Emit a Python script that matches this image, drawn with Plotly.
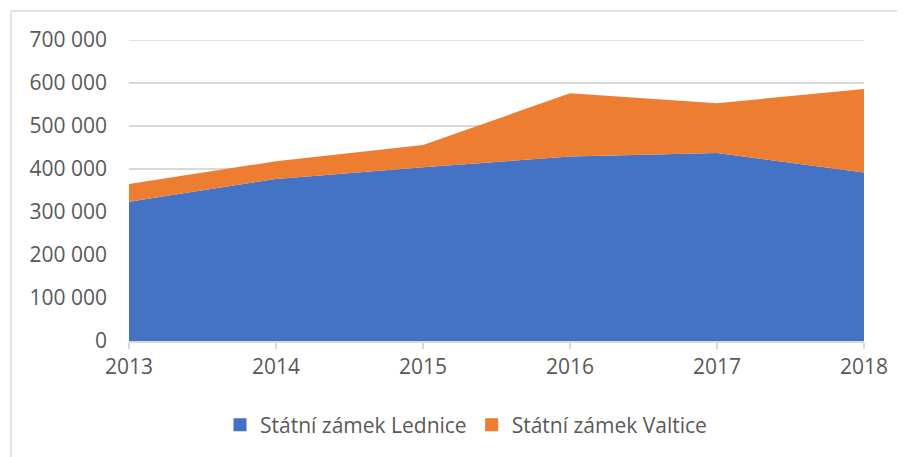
import plotly.graph_objects as go

years = [2013, 2014, 2015, 2016, 2017, 2018]
lednice = [324000, 377000, 404000, 429000, 437000, 392000]
valtice = [41000, 41000, 52000, 147000, 116000, 194000]
series_names = ["Státní zámek Lednice", "Státní zámek Valtice"]
colors = ["#4472C4", "#ED7D31"]
y_ticks = [0, 100000, 200000, 300000, 400000, 500000, 600000, 700000]

fig = go.Figure()
for name, vals, c in zip(series_names, [lednice, valtice], colors):
    fig.add_trace(go.Scatter(
        x=years, y=vals, name=name, mode="lines",
        stackgroup="one", line=dict(width=0, color=c), fillcolor=c,
        showlegend=False, hoverinfo="x+y+name",
    ))
# legend entries as square markers
for name, c in zip(series_names, colors):
    fig.add_trace(go.Scatter(
        x=[None], y=[None], name=name, mode="markers",
        marker=dict(symbol="square", size=13, color=c), showlegend=True,
    ))

# page body has an 8px margin, so the figure is shrunk by 8px
W, H = 897, 449
L, R, T, B = 121, 41, 32, 116
pw, ph = W - L - R, H - T - B
GRID = "#d9d9d9"
TXT = "#595959"
FONT = "Open Sans, Liberation Sans, sans-serif"

fig.update_layout(
    width=W, height=H,
    margin=dict(l=L, r=R, t=T, b=B),
    paper_bgcolor="white", plot_bgcolor="white",
    separators=", ",
    font=dict(family=FONT, size=21, color=TXT),
    showlegend=True,
    legend=dict(orientation="h", x=(458 - L) / pw, xanchor="center",
                y=(ph + T - 417) / ph, yanchor="middle",
                font=dict(size=21, color=TXT), traceorder="normal",
                itemwidth=30, bgcolor="rgba(0,0,0,0)"),
    xaxis=dict(range=[years[0], years[-1]], tickmode="array", tickvals=years,
               ticktext=[str(y) for y in years], showgrid=False,
               showline=True, linecolor=GRID, linewidth=1.5,
               ticks="outside", ticklen=6, tickcolor=GRID, tickwidth=1.5,
               zeroline=False, tickfont=dict(size=21, color=TXT)),
    yaxis=dict(range=[0, y_ticks[-1]], tickvals=y_ticks,
               tickformat=",d",
               showgrid=True, gridcolor=GRID, gridwidth=1.5,
               zeroline=False, showline=False, ticks="",
               ticklabelstandoff=21,
               tickfont=dict(size=21, color=TXT)),
    shapes=[
        # top gridline (plotly omits the gridline at the range edge)
        dict(type="line", xref="paper", yref="y", x0=0, x1=1,
             y0=y_ticks[-1], y1=y_ticks[-1], line=dict(color=GRID, width=1.5),
             layer="below"),
        dict(type="line", xref="paper", yref="paper",
             x0=(3 - L) / pw, x1=(3 - L) / pw, y0=-(B + 5) / ph, y1=1 + (T - 3) / ph,
             line=dict(color=GRID, width=1.5)),
        dict(type="line", xref="paper", yref="paper",
             x0=(3 - L) / pw, x1=1 + (R + 5) / pw, y0=1 + (T - 3) / ph, y1=1 + (T - 3) / ph,
             line=dict(color=GRID, width=1.5)),
    ],
)

fig.write_html("out.html")
